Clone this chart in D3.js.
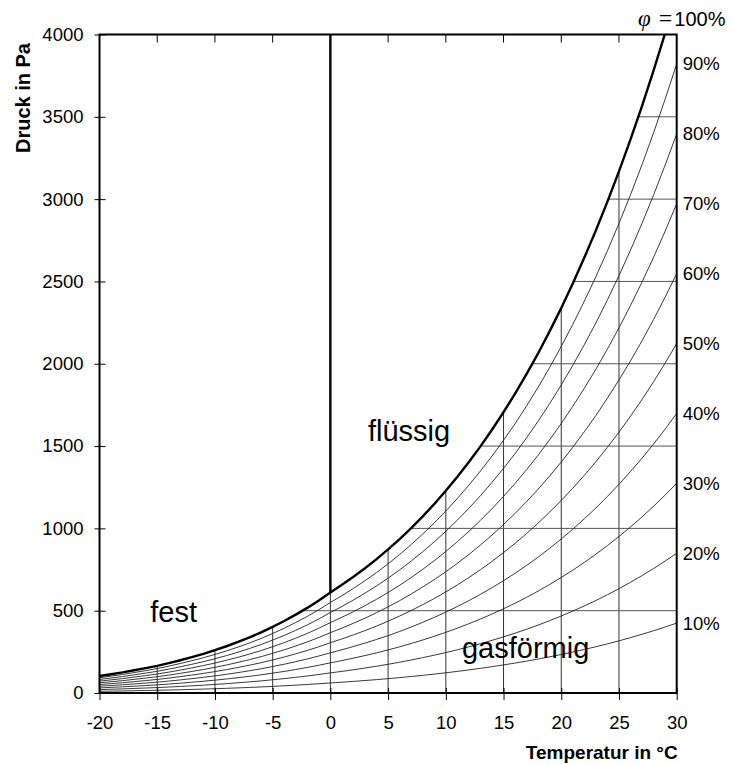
<!DOCTYPE html>
<html>
<head>
<meta charset="utf-8">
<script src="https://cdn.jsdelivr.net/npm/d3@7"></script>
<style>
  html, body { margin: 0; padding: 0; background: #fff; }
  svg { display: block; font-family: "Liberation Sans", Arial, sans-serif; }
</style>
</head>
<body>
<svg id="chart" width="732" height="764"></svg>
<script>
// Temperature grid (°C)
const temps = [-20,-19,-18,-17,-16,-15,-14,-13,-12,-11,-10,-9,-8,-7,-6,-5,-4,-3,-2,-1,
  0,1,2,3,4,5,6,7,8,9,10,11,12,13,14,15,16,17,18,19,20,21,22,23,24,25,26,27,28,29,30];
// Saturation vapour pressure (Pa): over ice below 0 °C, over water above
const satPressure = [103,114,125,138,151,165,181,199,218,238,260,284,310,338,368,402,437,476,517,562,
  611,657,706,758,813,872,935,1002,1073,1148,1228,1313,1403,1498,1599,1706,1818,1938,2064,2198,
  2339,2488,2645,2810,2985,3169,3363,3567,3782,4008,4246];
// Relative humidity levels for the thin curves
const phiLevels = [0.1,0.2,0.3,0.4,0.5,0.6,0.7,0.8,0.9];
const phiLabels = ["10%","20%","30%","40%","50%","60%","70%","80%","90%"];
const xTicks = [-20,-15,-10,-5,0,5,10,15,20,25,30];
const yTicks = [0,500,1000,1500,2000,2500,3000,3500,4000];
const regionLabels = [
  {text: "fest", t: -15.6, p: 430},
  {text: "flüssig", t: 3.25, p: 1530},
  {text: "gasförmig", t: 11.4, p: 212}
];

const svg = d3.select("#chart");
const x = d3.scaleLinear().domain([-20, 30]).range([99.5, 676.7]);
const y = d3.scaleLinear().domain([0, 4000]).range([693, 34.5]);
const font = "'Liberation Sans', Arial, sans-serif";
const serif = "'Liberation Serif', 'DejaVu Serif', serif";

svg.append("defs").append("clipPath").attr("id", "plotClip")
  .append("rect")
  .attr("x", x(-20)).attr("y", y(4000))
  .attr("width", x(30) - x(-20)).attr("height", y(0) - y(4000));

const pts = temps.map((t, i) => ({t, p: satPressure[i]}));

// temperature at which saturation pressure equals p (linear in the table)
function tempAt(p) {
  for (let i = 1; i < pts.length; i++) {
    if (pts[i].p >= p) {
      const a = pts[i - 1], b = pts[i];
      return a.t + (p - a.p) / (b.p - a.p) * (b.t - a.t);
    }
  }
  return 30;
}
function satAt(t) {
  return satPressure[temps.indexOf(t)];
}

const plot = svg.append("g").attr("clip-path", "url(#plotClip)");

// vertical grid lines: from the x axis up to the saturation curve
plot.selectAll("line.vgrid")
  .data(xTicks.filter(t => t > -20 && t < 30))
  .enter().append("line")
  .attr("x1", d => x(d)).attr("x2", d => x(d))
  .attr("y1", y(0)).attr("y2", d => y(Math.min(satAt(d), 4000)))
  .attr("stroke", "#333").attr("stroke-width", 1);

// horizontal grid lines: from the saturation curve to the right edge
plot.selectAll("line.hgrid")
  .data(yTicks.filter(p => p > 0 && p < 4000))
  .enter().append("line")
  .attr("x1", d => x(tempAt(d))).attr("x2", x(30))
  .attr("y1", d => y(d)).attr("y2", d => y(d))
  .attr("stroke", "#555").attr("stroke-width", 1);

// relative humidity curves
const line = d3.line().x(d => x(d.t)).y(d => y(d.p));
plot.selectAll("path.phi")
  .data(phiLevels)
  .enter().append("path")
  .attr("d", f => line(pts.map(d => ({t: d.t, p: d.p * f}))))
  .attr("fill", "none").attr("stroke", "#222").attr("stroke-width", 0.9);

// saturation curve (phase boundary)
plot.append("path")
  .attr("d", line(pts))
  .attr("fill", "none").attr("stroke", "#000").attr("stroke-width", 2.4);

// melting line at 0 °C
plot.append("line")
  .attr("x1", x(0)).attr("x2", x(0))
  .attr("y1", y(satAt(0))).attr("y2", y(4000))
  .attr("stroke", "#000").attr("stroke-width", 2.4);

// frame
svg.append("rect")
  .attr("x", x(-20)).attr("y", y(4000))
  .attr("width", x(30) - x(-20)).attr("height", y(0) - y(4000))
  .attr("fill", "none").attr("stroke", "#000").attr("stroke-width", 2);

// left axis
const yAxis = d3.axisLeft(y).tickValues(yTicks).tickSize(5).tickPadding(11)
  .tickFormat(d => String(d));
const gy = svg.append("g").attr("transform", `translate(${x(-20)},0)`).call(yAxis);
gy.select(".domain").remove();
gy.selectAll(".tick line").attr("x2", -5).attr("x1", 6).attr("stroke", "#000").attr("stroke-width", 1);
gy.selectAll(".tick text").attr("font-size", 18.5).attr("font-family", font).attr("fill", "#000");

// bottom axis
const xAxis = d3.axisBottom(x).tickValues(xTicks).tickSize(7).tickPadding(16)
  .tickFormat(d => String(d));
const gx = svg.append("g").attr("transform", `translate(0,${y(0)})`).call(xAxis);
gx.select(".domain").remove();
gx.selectAll(".tick line").attr("y1", -5).attr("y2", 7).attr("stroke", "#000").attr("stroke-width", 1);
gx.selectAll(".tick text").attr("font-size", 18.5).attr("font-family", font).attr("fill", "#000");

// inner tick marks along the top edge
svg.selectAll("line.toptick")
  .data(xTicks.filter(t => t > -20 && t < 30 && t !== 0))
  .enter().append("line")
  .attr("x1", d => x(d)).attr("x2", d => x(d))
  .attr("y1", y(4000)).attr("y2", y(4000) + 8)
  .attr("stroke", "#000").attr("stroke-width", 1);

// axis titles
svg.append("text")
  .attr("transform", `translate(30,43) rotate(-90)`)
  .attr("text-anchor", "end")
  .attr("font-size", 20).attr("font-weight", "bold").attr("font-family", font)
  .text("Druck in Pa");
svg.append("text")
  .attr("x", x(30) + 1).attr("y", 759)
  .attr("text-anchor", "end")
  .attr("font-size", 19).attr("font-weight", "bold").attr("font-family", font)
  .text("Temperatur in °C");

// relative humidity labels at the right edge
svg.selectAll("text.phiLabel")
  .data(phiLevels)
  .enter().append("text")
  .attr("x", x(30) + 6)
  .attr("y", f => y(f * satAt(30)))
  .attr("dy", "0.35em")
  .attr("font-size", 18.5).attr("font-family", font)
  .text((f, i) => phiLabels[i]);

// saturation label above the top-right corner
const satLabel = svg.append("text").attr("x", 638).attr("y", 26).attr("font-size", 20).attr("font-family", font);
satLabel.append("tspan").attr("font-family", serif).attr("font-style", "italic").attr("font-size", 23).text("φ");
satLabel.append("tspan").attr("font-family", serif).attr("font-size", 24).attr("dx", 8).text("=");
satLabel.append("tspan").attr("dx", 2).text("100%");

// phase region labels
svg.selectAll("text.region")
  .data(regionLabels)
  .enter().append("text")
  .attr("x", d => x(d.t)).attr("y", d => y(d.p))
  .attr("font-size", 29).attr("font-family", font)
  .text(d => d.text);
</script>
</body>
</html>
